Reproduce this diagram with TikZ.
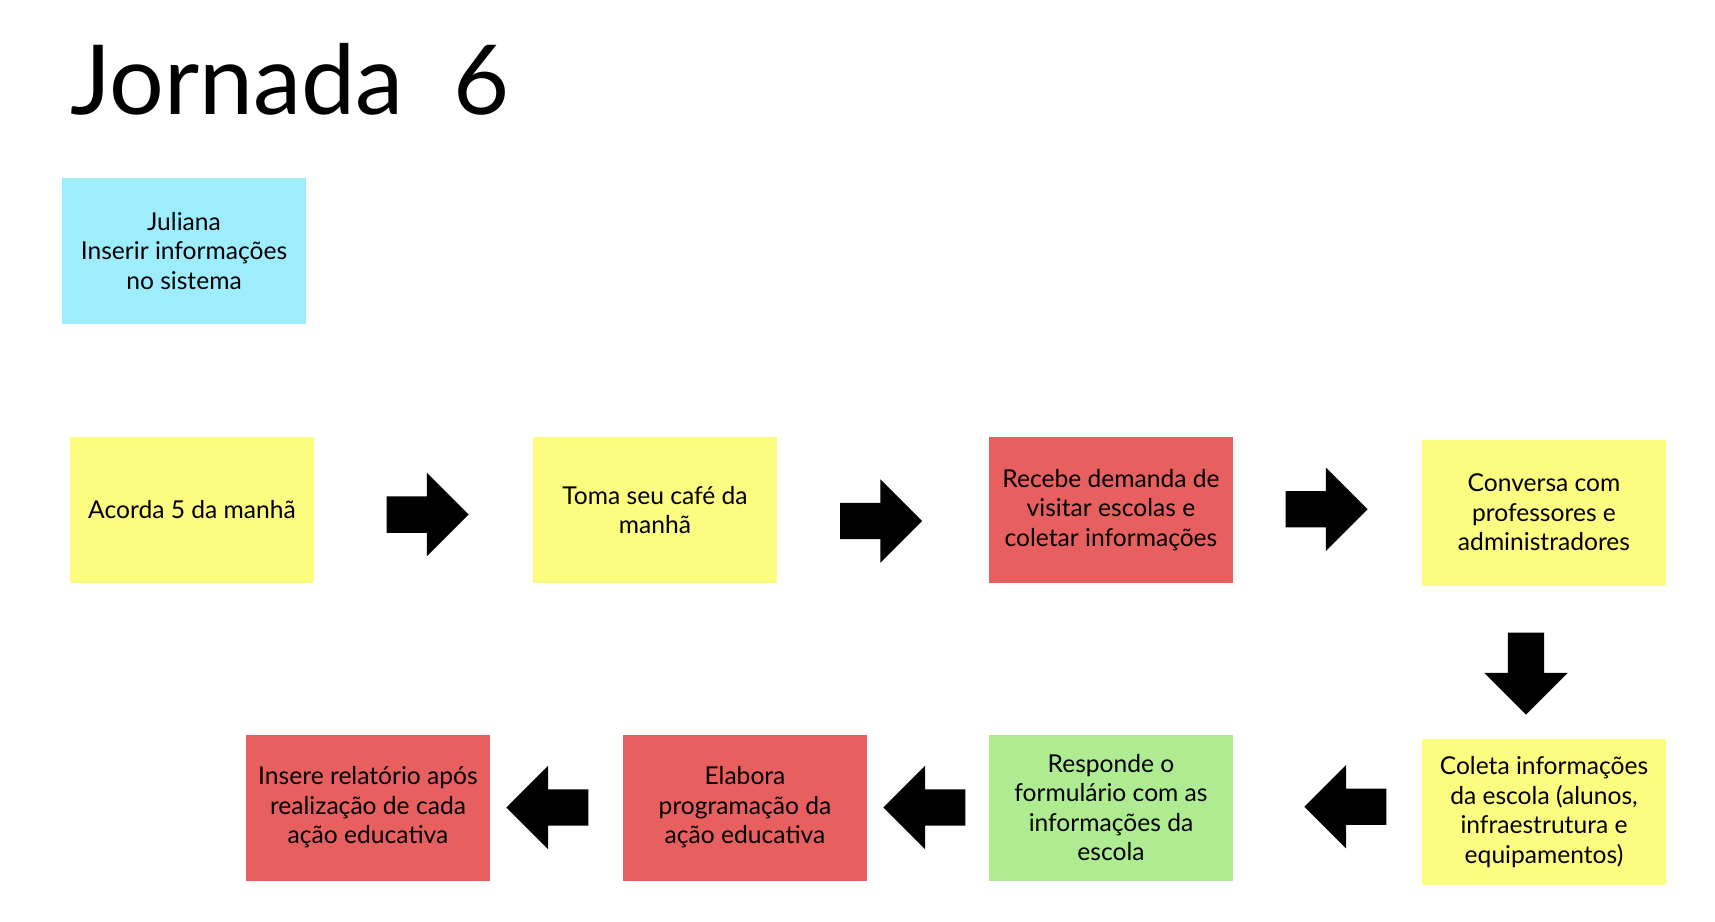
\documentclass[tikz,border=0pt]{standalone}
\usepackage{fontspec}
\setmainfont{Lato}
\usetikzlibrary{positioning,shapes.arrows}

\definecolor{noteyellow}{HTML}{FCFC80}
\definecolor{notered}{HTML}{E85F5F}
\definecolor{notegreen}{HTML}{AEEB91}
\definecolor{noteblue}{HTML}{9DEDFD}

\begin{document}
\begin{tikzpicture}[
    note/.style={minimum width=2.44cm, minimum height=1.46cm, align=center, inner sep=2pt,
      font=\fontsize{7}{8.4}\selectfont},
    blockarrow/.style={single arrow, fill=black, inner xsep=0pt, inner ysep=0.175cm,
      minimum height=0.82cm, single arrow head extend=0.235cm, shape border rotate=#1},
    blockarrow/.default=0,
    downarrow/.style={blockarrow=270, inner xsep=0.175cm, inner ysep=0pt}]
\useasboundingbox (0,0) rectangle (17.15,-9.21);
\node[anchor=base west, font=\fontsize{27.5}{30}\selectfont] (title) at (0.58,-1.15) {Jornada\ \ 6};
\node[note, fill=noteblue] (persona) at (1.84,-2.51) {Juliana\\Inserir informações\\no sistema};
% first row
\node[note, fill=noteyellow] (acorda) at (1.92,-5.10) {Acorda 5 da manhã};
\node[note, fill=noteyellow] (cafe) at (6.55,-5.10) {Toma seu café da\\manhã};
\node[note, fill=notered] (demanda) at (11.11,-5.10) {Recebe demanda de\\visitar escolas e\\coletar informações};
\node[note, fill=noteyellow] (conversa) at (15.44,-5.125) {Conversa com\\professores e\\administradores};
% second row
\node[note, fill=noteyellow] (coleta) at (15.44,-8.12) {Coleta informações\\da escola (alunos,\\infraestrutura e\\equipamentos)};
\node[note, fill=notegreen] (responde) at (11.11,-8.075) {Responde o\\formulário com as\\informações da\\escola};
\node[note, fill=notered] (elabora) at (7.45,-8.075) {Elabora\\programação da\\ação educativa};
\node[note, fill=notered] (insere) at (3.68,-8.075) {Insere relatório após\\realização de cada\\ação educativa};
% arrows
\path (acorda) -- node[blockarrow, xshift=-0.05cm, yshift=-0.046cm] (a1) {} (cafe);
\path (cafe) -- node[blockarrow, xshift=-0.11cm, yshift=-0.11cm] (a2) {} (demanda);
\path (demanda) -- node[blockarrow, xshift=-0.1cm, yshift=0.02cm] (a3) {} (conversa);
\path (conversa) -- node[downarrow, xshift=-0.18cm, yshift=-0.023cm] (a4) {} (coleta);
\path (coleta) -- node[blockarrow=180, xshift=0.27cm, yshift=0.03cm] (a5) {} (responde);
\path (responde) -- node[blockarrow=180, xshift=0.055cm] (a6) {} (elabora);
\path (elabora) -- node[blockarrow=180] (a7) {} (insere);
\end{tikzpicture}
\end{document}
